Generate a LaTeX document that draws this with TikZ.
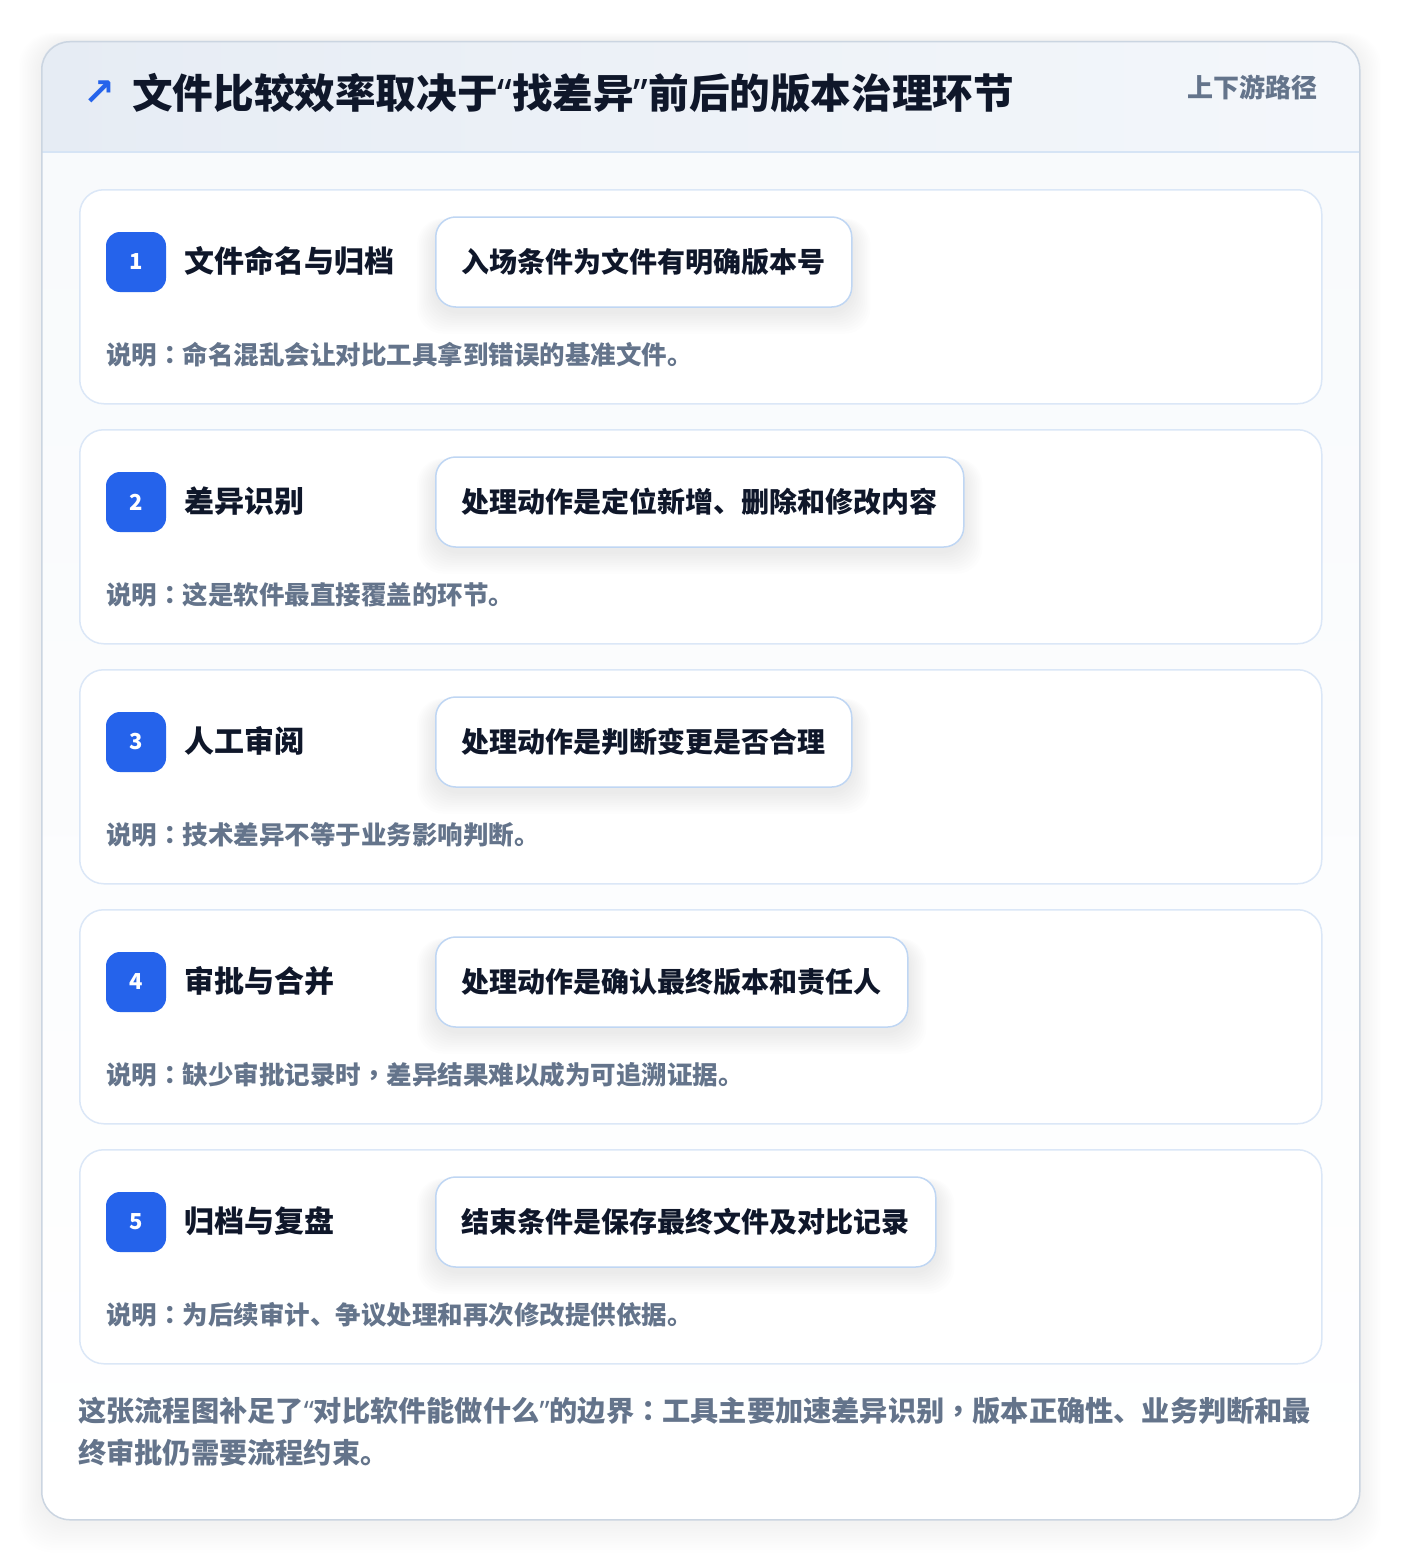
\documentclass[tikz,border=0pt]{standalone}
\usepackage{fontspec}
\setmainfont{Noto Sans CJK SC}
\newfontfamily\tcfont{Noto Sans CJK TC}
\newfontfamily\arrowfont{DejaVu Sans}
\newfontfamily\latinfont{Noto Sans}
\newcommand\mycolon{{\tcfont ：}}
\newcommand\mycomma{{\tcfont ，}}
\newcommand\myloq{{\latinfont “}}
\newcommand\myroq{{\latinfont ”}}
\usetikzlibrary{calc}
\definecolor{cblue}{HTML}{2563EB}
\definecolor{ink}{HTML}{0F172A}
\definecolor{muted}{HTML}{64748B}
\definecolor{frameline}{HTML}{CBD5E1}
\definecolor{cardline}{HTML}{DBE7F7}
\definecolor{pillline}{HTML}{BFD6F3}
\definecolor{hdrL}{HTML}{E6ECF4}
\definecolor{hdrR}{HTML}{F4F7FB}
\definecolor{hdrline}{HTML}{D6E4F5}
\definecolor{bodyT}{HTML}{F8FAFC}
\pgfdeclarelayer{back}
\pgfdeclarelayer{shadow}
\pgfsetlayers{back,shadow,main}
\tikzset{
  frame/.style={draw=frameline, line width=1.5pt, rounded corners=28pt, minimum width=1318pt, minimum height=1478pt, anchor=north west, inner sep=0pt},
  card/.style={draw=cardline, line width=1.5pt, fill=white, rounded corners=24pt, minimum width=1242pt, minimum height=214pt, anchor=north west, inner sep=0pt},
  badge/.style={fill=cblue, rounded corners=14pt, minimum size=60pt, text=white, font=\bfseries\fontsize{22}{26}\selectfont, inner sep=0pt},
  stitle/.style={anchor=west, inner sep=0pt, text=ink, font=\bfseries\fontsize{30}{36}\selectfont},
  pill/.style={draw=pillline, line width=1.5pt, fill=white, rounded corners=20pt, minimum height=90pt, inner xsep=26pt, anchor=west, text=ink, font=\bfseries\fontsize{28}{34}\selectfont},
  desc/.style={anchor=west, inner sep=0pt, text=muted, font=\bfseries\fontsize{25.5}{30}\selectfont},
}
\begin{document}
\begin{tikzpicture}[x=1pt,y=-1pt]
\useasboundingbox (0,0) rectangle (1400,1560);
\begin{pgfonlayer}{back}
  \fill[white] (0,0) rectangle (1400,1560);
  \foreach \i in {1,...,14}
    \fill[black, opacity=0.0045, rounded corners=34pt] (41-1.6*\i,41-0.6*\i) rectangle (1359+1.6*\i,1519+2.4*\i);
  \begin{scope}
    \clip[rounded corners=28pt] (41,41) rectangle (1359,1519);
    \shade[left color=hdrL, right color=hdrR] (41,41) rectangle (1359,152);
    \shade[top color=bodyT, bottom color=white] (41,152) rectangle (1359,1519);
  \end{scope}
  \draw[hdrline, line width=1.5pt] (41,152) -- (1359,152);
  \node[frame] (outer) at (41,41) {};
\end{pgfonlayer}

\node[anchor=center, inner sep=0pt, text=cblue, font=\arrowfont\bfseries\fontsize{38}{42}\selectfont] (arrow) at (99,93) {↗};
\node[anchor=west, inner sep=0pt, text=ink, font=\bfseries\fontsize{40.6}{46}\selectfont] (title) at (132,93) {文件比较效率取决于\myloq 找差异\myroq 前后的版本治理环节};
\node[anchor=east, inner sep=0pt, text=muted, font=\bfseries\fontsize{26}{30}\selectfont] (tag) at (1318,87) {上下游路径};

\foreach \n/\t/\p/\d [count=\k from 0] in {
  1/文件命名与归档/入场条件为文件有明确版本号/说明\mycolon 命名混乱会让对比工具拿到错误的基准文件。,
  2/差异识别/处理动作是定位新增、删除和修改内容/说明\mycolon 这是软件最直接覆盖的环节。,
  3/人工审阅/处理动作是判断变更是否合理/说明\mycolon 技术差异不等于业务影响判断。,
  4/审批与合并/处理动作是确认最终版本和责任人/说明\mycolon 缺少审批记录时\mycomma 差异结果难以成为可追溯证据。,
  5/归档与复盘/结束条件是保存最终文件及对比记录/说明\mycolon 为后续审计、争议处理和再次修改提供依据。}{
  \pgfmathsetmacro{\yo}{240*\k}
  \begin{pgfonlayer}{back}
    \node[card] (card\n) at (79,189+\yo) {};
  \end{pgfonlayer}
  \node[badge] (badge\n) at (136,262+\yo) {\n};
  \node[stitle] (stitle\n) at (184,261+\yo) {\t};
  \node[pill] (pill\n) at (435,262+\yo) {\p};
  \begin{pgfonlayer}{shadow}
    \foreach \j in {1,...,10}
      \fill[black, opacity=0.007, rounded corners=26pt] ($(pill\n.north west)+(-1.8*\j,-0.4*\j+6)$) rectangle ($(pill\n.south east)+(1.8*\j,2.2*\j+4)$);
  \end{pgfonlayer}
  \node[desc] (desc\n) at (106,355+\yo) {\d};
}

\node[anchor=base west, inner sep=0pt, align=left, text=muted, font=\bfseries\fontsize{28.2}{42}\selectfont] (foot) at (78,1463) {这张流程图补足了\myloq 对比软件能做什么\myroq 的边界\mycolon 工具主要加速差异识别\mycomma 版本正确性、业务判断和最\\终审批仍需要流程约束。};
\end{tikzpicture}
\end{document}
